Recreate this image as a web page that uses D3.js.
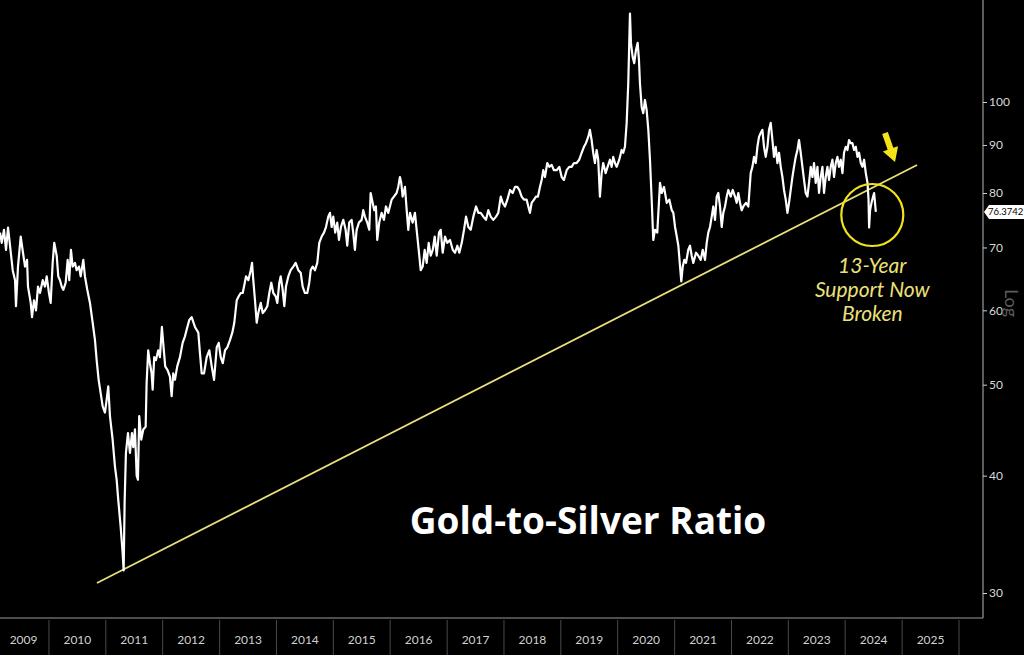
<!DOCTYPE html>
<html>
<head>
<meta charset="utf-8">
<script src="https://cdn.jsdelivr.net/npm/d3@7"></script>
<style>
  html, body { margin: 0; padding: 0; background: #000; }
  svg { display: block; }
</style>
</head>
<body>
<svg id="chart" width="1024" height="655"></svg>
<script>
// ---- DATA (decimal year, ratio) ----
const goldSilverRatio = [
[2009.139,72.6],[2009.169,70.8],[2009.209,73.1],[2009.244,69.6],[2009.280,73.5],[2009.315,70.3],[2009.362,66.2],[2009.403,64.6],[2009.420,60.6],[2009.455,66.8],
[2009.503,71.9],[2009.543,69.1],[2009.579,66.8],[2009.614,67.9],[2009.631,63.6],[2009.679,61.1],[2009.702,59.0],[2009.737,61.5],[2009.772,60.0],[2009.807,63.6],
[2009.842,62.6],[2009.890,64.6],[2009.930,63.6],[2009.960,65.2],[2010.000,62.6],[2010.030,61.1],[2010.065,67.4],[2010.093,70.8],[2010.136,68.6],[2010.164,65.2],
[2010.194,64.6],[2010.224,63.6],[2010.252,63.1],[2010.294,64.2],[2010.329,67.9],[2010.357,64.6],[2010.387,69.6],[2010.417,66.8],[2010.458,67.4],[2010.487,66.2],
[2010.528,66.8],[2010.558,65.2],[2010.604,67.9],[2010.633,65.2],[2010.674,63.1],[2010.721,61.1],[2010.769,58.2],[2010.809,55.8],[2010.839,53.1],[2010.874,50.6],
[2010.909,49.0],[2010.945,47.4],[2010.985,46.7],[2011.015,48.2],[2011.043,49.8],[2011.073,46.3],[2011.120,43.7],[2011.161,40.9],[2011.191,39.6],[2011.219,37.7],
[2011.261,35.3],[2011.296,33.1],[2011.314,31.7],[2011.332,37.7],[2011.354,42.3],[2011.390,44.4],[2011.425,42.3],[2011.460,44.4],[2011.483,42.9],[2011.513,44.8],
[2011.543,40.0],[2011.565,39.6],[2011.588,46.3],[2011.624,43.7],[2011.659,44.8],[2011.701,45.1],[2011.718,50.2],[2011.746,54.4],[2011.776,52.7],[2011.806,51.4],
[2011.824,49.4],[2011.852,53.5],[2011.882,53.1],[2011.922,54.4],[2011.952,53.5],[2011.987,57.6],[2012.010,55.4],[2012.045,52.3],[2012.088,51.8],[2012.128,51.0],
[2012.158,48.6],[2012.186,51.4],[2012.216,50.6],[2012.256,52.3],[2012.304,53.5],[2012.351,55.4],[2012.392,56.3],[2012.421,57.2],[2012.467,58.6],[2012.509,59.0],
[2012.567,57.6],[2012.626,56.8],[2012.655,54.0],[2012.685,51.4],[2012.726,51.4],[2012.773,53.5],[2012.819,54.4],[2012.861,52.3],[2012.902,50.6],[2012.949,54.8],
[2012.984,55.4],[2013.019,53.5],[2013.055,52.7],[2013.095,54.4],[2013.135,54.8],[2013.183,55.8],[2013.223,56.8],[2013.258,58.2],[2013.301,61.5],[2013.336,62.1],
[2013.371,62.6],[2013.406,62.6],[2013.429,63.6],[2013.464,65.2],[2013.505,64.6],[2013.547,66.2],[2013.570,67.4],[2013.592,64.6],[2013.622,61.5],[2013.652,58.2],
[2013.680,59.6],[2013.723,61.1],[2013.758,59.6],[2013.798,60.0],[2013.839,60.6],[2013.874,62.6],[2013.909,64.2],[2013.944,62.6],[2013.986,62.1],[2014.015,61.1],
[2014.050,64.2],[2014.074,65.2],[2014.109,63.1],[2014.138,60.6],[2014.167,63.6],[2014.208,65.2],[2014.250,66.2],[2014.296,66.8],[2014.338,67.4],[2014.384,66.2],
[2014.426,65.8],[2014.461,63.6],[2014.501,62.6],[2014.542,62.6],[2014.577,64.2],[2014.602,66.2],[2014.637,66.8],[2014.677,66.2],[2014.718,67.4],[2014.753,70.8],
[2014.795,71.9],[2014.836,72.6],[2014.871,73.6],[2014.911,75.5],[2014.941,76.2],[2014.971,73.6],[2014.999,75.5],[2015.034,72.6],[2015.069,74.4],[2015.099,71.3],
[2015.134,73.6],[2015.175,74.9],[2015.217,73.1],[2015.245,70.3],[2015.280,74.4],[2015.322,74.9],[2015.350,72.6],[2015.380,69.6],[2015.410,73.1],[2015.451,74.4],
[2015.498,74.9],[2015.527,76.7],[2015.556,75.5],[2015.597,74.4],[2015.632,73.1],[2015.657,80.0],[2015.692,78.1],[2015.720,76.7],[2015.750,77.4],[2015.773,71.3],
[2015.808,74.4],[2015.850,76.2],[2015.891,74.9],[2015.926,77.4],[2015.966,76.2],[2015.996,77.4],[2016.026,78.7],[2016.066,79.3],[2016.113,80.0],[2016.142,81.2],
[2016.172,83.2],[2016.195,82.0],[2016.219,79.3],[2016.260,81.2],[2016.290,76.7],[2016.318,73.1],[2016.348,76.2],[2016.395,74.4],[2016.435,76.2],[2016.465,73.1],
[2016.506,69.1],[2016.536,66.2],[2016.571,66.8],[2016.606,69.6],[2016.641,67.4],[2016.676,70.8],[2016.712,68.6],[2016.747,69.6],[2016.782,71.9],[2016.817,68.6],
[2016.857,72.6],[2016.887,73.1],[2016.922,69.1],[2016.963,71.9],[2017.003,70.8],[2017.051,71.3],[2017.098,69.6],[2017.139,69.1],[2017.179,70.3],[2017.214,69.1],
[2017.257,70.8],[2017.297,73.1],[2017.332,75.5],[2017.373,73.6],[2017.415,73.1],[2017.461,75.5],[2017.508,77.4],[2017.549,76.2],[2017.591,76.2],[2017.636,75.5],
[2017.684,74.9],[2017.724,76.7],[2017.766,75.5],[2017.812,74.9],[2017.860,75.5],[2017.900,76.2],[2017.943,79.3],[2017.978,78.1],[2018.018,77.4],[2018.059,78.7],
[2018.106,80.6],[2018.153,80.0],[2018.194,81.2],[2018.234,81.2],[2018.269,80.6],[2018.311,79.3],[2018.352,78.7],[2018.399,78.7],[2018.428,77.4],[2018.457,76.2],
[2018.487,78.1],[2018.528,78.7],[2018.563,79.3],[2018.598,79.3],[2018.633,81.2],[2018.663,82.6],[2018.691,84.6],[2018.721,83.2],[2018.762,86.1],[2018.797,85.3],
[2018.839,85.7],[2018.879,84.6],[2018.927,84.6],[2018.973,85.3],[2019.015,83.2],[2019.055,82.6],[2019.103,84.6],[2019.148,85.3],[2019.190,85.3],[2019.231,86.1],
[2019.278,86.1],[2019.324,86.8],[2019.367,88.3],[2019.407,89.6],[2019.442,90.4],[2019.482,91.8],[2019.512,93.4],[2019.542,91.1],[2019.570,88.3],[2019.600,86.1],
[2019.630,88.9],[2019.658,86.8],[2019.688,79.3],[2019.718,84.0],[2019.746,86.1],[2019.788,84.0],[2019.823,85.3],[2019.864,86.8],[2019.894,85.3],[2019.922,87.4],
[2019.952,86.1],[2019.982,85.3],[2020.028,86.8],[2020.070,88.9],[2020.098,88.3],[2020.128,89.6],[2020.158,95.0],[2020.186,104.7],[2020.216,124.2],[2020.233,115.6],
[2020.263,111.7],[2020.291,110.0],[2020.321,113.6],[2020.351,115.6],[2020.374,110.8],[2020.391,104.7],[2020.421,98.8],[2020.449,97.3],[2020.479,100.5],[2020.509,98.0],
[2020.538,93.4],[2020.567,86.8],[2020.597,78.7],[2020.625,71.3],[2020.655,73.1],[2020.695,72.6],[2020.720,77.4],[2020.743,82.0],[2020.773,80.0],[2020.813,81.2],
[2020.861,78.1],[2020.907,78.7],[2020.949,76.7],[2020.977,76.2],[2021.007,73.6],[2021.037,71.9],[2021.065,70.3],[2021.095,66.8],[2021.117,64.4],[2021.142,66.8],
[2021.170,67.9],[2021.200,67.4],[2021.240,69.6],[2021.270,70.3],[2021.300,68.6],[2021.328,67.4],[2021.376,69.1],[2021.416,68.6],[2021.459,67.9],[2021.494,69.6],
[2021.534,67.9],[2021.564,70.8],[2021.592,72.6],[2021.622,73.6],[2021.652,75.5],[2021.680,77.4],[2021.710,74.9],[2021.740,79.3],[2021.768,80.0],[2021.798,77.4],
[2021.828,73.6],[2021.856,76.2],[2021.886,77.4],[2021.916,79.3],[2021.944,80.6],[2021.986,79.3],[2022.021,80.6],[2022.062,79.3],[2022.091,78.1],[2022.120,80.0],
[2022.150,78.1],[2022.179,76.7],[2022.208,77.4],[2022.255,78.1],[2022.296,77.4],[2022.338,84.0],[2022.368,85.3],[2022.396,87.4],[2022.426,86.1],[2022.456,89.6],
[2022.484,91.8],[2022.514,92.7],[2022.544,93.4],[2022.572,89.6],[2022.602,87.4],[2022.632,89.6],[2022.660,93.4],[2022.690,95.0],[2022.720,91.1],[2022.748,87.4],
[2022.778,89.6],[2022.808,86.1],[2022.836,88.3],[2022.866,85.3],[2022.896,83.2],[2022.924,80.6],[2022.954,78.7],[2022.984,76.2],[2023.012,78.1],[2023.042,80.6],
[2023.072,83.2],[2023.100,85.3],[2023.130,87.4],[2023.160,88.9],[2023.188,91.1],[2023.218,88.3],[2023.248,85.3],[2023.276,82.6],[2023.306,80.0],[2023.336,79.3],
[2023.364,82.0],[2023.394,85.3],[2023.424,83.2],[2023.452,86.1],[2023.482,82.0],[2023.512,85.3],[2023.540,80.0],[2023.570,83.2],[2023.600,85.3],[2023.628,80.0],
[2023.658,83.2],[2023.688,85.3],[2023.716,82.6],[2023.746,85.3],[2023.776,86.8],[2023.804,83.2],[2023.834,86.1],[2023.864,87.4],[2023.892,85.3],[2023.922,86.8],
[2023.952,84.0],[2023.980,88.3],[2024.010,89.6],[2024.040,88.9],[2024.068,91.1],[2024.098,90.4],[2024.128,90.4],[2024.156,88.9],[2024.186,89.6],[2024.216,87.4],
[2024.244,88.3],[2024.274,86.1],[2024.304,85.3],[2024.332,86.8],[2024.362,84.0],[2024.392,82.0],[2024.410,78.7],[2024.420,73.5],[2024.437,76.7],[2024.462,78.1],
[2024.490,79.3],[2024.508,80.0],[2024.538,76.3742]
];

const yearLabels = [2009,2010,2011,2012,2013,2014,2015,2016,2017,2018,2019,2020,2021,2022,2023,2024,2025];
const yTickValues = [30,40,50,60,70,80,90,100];
const lastValue = 76.3742;

// 13-year support trendline (start / end anchor: decimal year, ratio)
const trendStart = [2010.844, 30.74];
const trendEnd   = [2025.262, 85.7];

// annotation anchors
const circleCenter = [2024.476, 75.8];
const arrowTop = [2024.699, 92.7];
const arrowTip = [2024.875, 86.3];
const noteLines = ["13-Year", "Support Now", "Broken"];
const title = "Gold-to-Silver Ratio";

// ---- helpers ----
function decToDate(d) {
  const y = Math.floor(d);
  const s = Date.UTC(y, 0, 1), e = Date.UTC(y + 1, 0, 1);
  return new Date(s + (d - y) * (e - s));
}

const svg = d3.select("#chart");
const W = 1024, H = 655;
const plotRight = 983, plotBottom = 618;

svg.append("rect").attr("width", W).attr("height", H).attr("fill", "#000");

const x = d3.scaleUtc()
  .domain([decToDate(2009.1385), decToDate(2026)])
  .range([0, 959]);
const y = d3.scaleLog()
  .domain([30, 100])
  .range([593, 102]);

// clip for plot
svg.append("defs").append("clipPath").attr("id", "plotClip")
  .append("rect").attr("x", 0).attr("y", 0).attr("width", plotRight).attr("height", plotBottom);

// ---- frame ----
svg.append("line").attr("x1", plotRight).attr("x2", plotRight).attr("y1", 0).attr("y2", plotBottom)
  .attr("stroke", "#9a9a9a").attr("stroke-width", 1.2);
svg.append("line").attr("x1", 0).attr("x2", plotRight).attr("y1", plotBottom).attr("y2", plotBottom)
  .attr("stroke", "#9a9a9a").attr("stroke-width", 1.2);

// ---- right axis (log) ----
const yAxis = d3.axisRight(y)
  .tickValues(yTickValues)
  .tickFormat(d3.format("d"))
  .tickSize(4)
  .tickPadding(2);
const ya = svg.append("g").attr("transform", `translate(${plotRight},0)`).call(yAxis);
ya.select(".domain").remove();
ya.selectAll(".tick line").attr("stroke", "#cfcfcf");
ya.selectAll(".tick text").attr("fill", "#d8d8d8")
  .style("font-family", "Lato, 'Open Sans', sans-serif").style("font-size", "12px");

// Log label
svg.append("text")
  .attr("transform", "translate(1005,303) rotate(90)")
  .attr("text-anchor", "middle")
  .attr("fill", "#5c5c5c")
  .style("font-family", "Lato, 'Open Sans', sans-serif")
  .style("font-size", "18px")
  .text("Log");

// ---- bottom year band ----
const bandG = svg.append("g");
yearLabels.concat([2026]).forEach(yr => {
  const xv = x(decToDate(yr));
  if (yr > 2009) {
    bandG.append("line").attr("x1", xv).attr("x2", xv).attr("y1", plotBottom + 2).attr("y2", H)
      .attr("stroke", "#4a4a4a").attr("stroke-width", 1);
  }
});
yearLabels.forEach(yr => {
  const xv = x(decToDate(yr + 0.5)) + (yr === 2009 ? 3 : 0);
  bandG.append("text")
    .attr("x", xv).attr("y", 641)
    .attr("text-anchor", "middle").attr("dominant-baseline", "middle")
    .attr("fill", "#d0d0d0")
    .style("font-family", "Lato, 'Open Sans', sans-serif").style("font-size", "12px")
    .text(yr);
});

// ---- trendline ----
const plotG = svg.append("g").attr("clip-path", "url(#plotClip)");
plotG.append("line")
  .attr("x1", x(decToDate(trendStart[0]))).attr("y1", y(trendStart[1]))
  .attr("x2", x(decToDate(trendEnd[0]))).attr("y2", y(trendEnd[1]))
  .attr("stroke", "#e9df7c").attr("stroke-width", 1.8);

// ---- ratio line ----
const line = d3.line()
  .x(d => x(decToDate(d[0])))
  .y(d => y(d[1]));
plotG.append("path")
  .datum(goldSilverRatio)
  .attr("d", line)
  .attr("fill", "none")
  .attr("stroke", "#ffffff")
  .attr("stroke-width", 2.2)
  .attr("stroke-linejoin", "round");

// ---- annotations ----
svg.append("circle")
  .attr("cx", x(decToDate(circleCenter[0]))).attr("cy", y(circleCenter[1]))
  .attr("r", 31)
  .attr("fill", "none").attr("stroke", "#f2e21c").attr("stroke-width", 2.2);

// arrow
(function() {
  const x1 = x(decToDate(arrowTop[0])), y1 = y(arrowTop[1]);
  const x2 = x(decToDate(arrowTip[0])), y2 = y(arrowTip[1]);
  const ang = Math.atan2(y2 - y1, x2 - x1);
  const len = Math.hypot(x2 - x1, y2 - y1);
  const g = svg.append("g").attr("transform", `translate(${x1},${y1}) rotate(${ang * 180 / Math.PI})`);
  const headL = 14, headW = 8, shaftW = 3;
  g.append("path")
    .attr("d", `M0,${-shaftW} L${len - headL},${-shaftW} L${len - headL},${-headW} L${len},0 L${len - headL},${headW} L${len - headL},${shaftW} L0,${shaftW} Z`)
    .attr("fill", "#f5e31a");
})();

const noteG = svg.append("g").attr("fill", "#ece07a")
  .style("font-family", "Lato, 'Open Sans', sans-serif")
  .style("font-style", "italic").style("font-size", "21px");
const noteX = x(decToDate(circleCenter[0]));
[268, 292, 316].forEach((yy, i) => {
  noteG.append("text").attr("x", noteX).attr("y", yy)
    .attr("text-anchor", "middle").attr("dominant-baseline", "middle")
    .text(noteLines[i]);
});

// title
svg.append("text")
  .attr("x", 588).attr("y", 524)
  .attr("text-anchor", "middle").attr("dominant-baseline", "middle")
  .attr("fill", "#ffffff")
  .style("font-family", "'Open Sans', Lato, sans-serif")
  .style("font-weight", "bold").style("font-size", "37px")
  .text(title);

// last value tag
(function() {
  const yy = y(lastValue);
  const g = svg.append("g").attr("transform", `translate(${plotRight + 1},${yy})`);
  g.append("path")
    .attr("d", "M0,0 L5,-7 L40,-7 L40,7 L5,7 Z")
    .attr("fill", "#ffffff");
  g.append("text").attr("x", 4).attr("y", 0.5)
    .attr("dominant-baseline", "middle")
    .attr("fill", "#000")
    .style("font-family", "Lato, 'Open Sans', sans-serif").style("font-size", "9.5px")
    .text(lastValue.toFixed(4));
})();
</script>
</body>
</html>
